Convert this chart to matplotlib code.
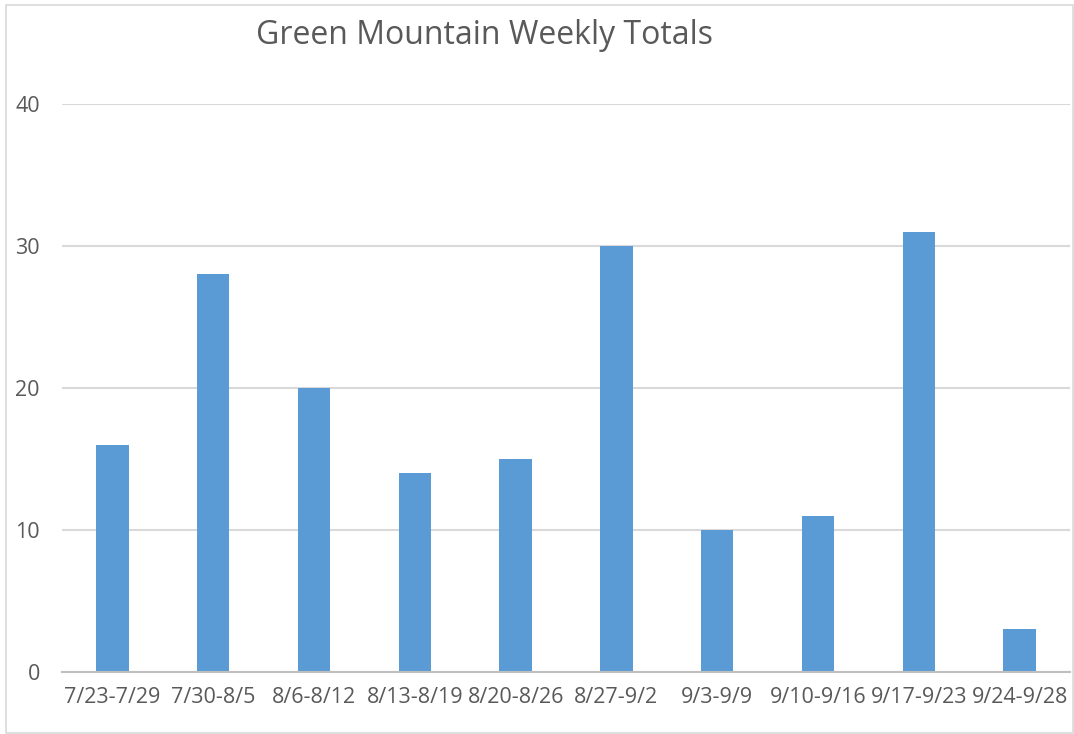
import matplotlib
matplotlib.use("Agg")
import matplotlib.pyplot as plt
from matplotlib.patches import Rectangle
import numpy as np

weeks = ["7/23-7/29", "7/30-8/5", "8/6-8/12", "8/13-8/19", "8/20-8/26",
         "8/27-9/2", "9/3-9/9", "9/10-9/16", "9/17-9/23", "9/24-9/28"]
totals = [16, 28, 20, 14, 15, 30, 10, 11, 31, 3]
yticks = [0, 10, 20, 30, 40]

plt.rcParams["font.family"] = ["Open Sans", "DejaVu Sans"]

fig = plt.figure(figsize=(10.74, 7.34), dpi=100)
ax = fig.add_axes([62 / 1074, 1 - 672 / 734, (1070 - 62) / 1074, (672 - 104) / 734])

x = np.arange(len(weeks))
ax.bar(x, totals, width=0.32, color="#5B9BD5", zorder=3)
ax.set_xlim(-0.5, len(weeks) - 0.5)
ax.set_ylim(0, 40)
ax.set_yticks(yticks)
ax.set_xticks(x)
ax.set_xticklabels(weeks)
ax.yaxis.grid(True, color="#D9D9D9", linewidth=1.5, zorder=0)
ax.tick_params(length=0, labelsize=15.5, colors="#595959")
ax.tick_params(axis="x", pad=11)
ax.tick_params(axis="y", pad=16)
for s in ("top", "right", "left"):
    ax.spines[s].set_visible(False)
ax.spines["bottom"].set_color("#BFBFBF")
ax.spines["bottom"].set_linewidth(1.5)
ax.spines["bottom"].set_zorder(4)

fig.text(485 / 1074, 1 - 35 / 734, "Green Mountain Weekly Totals",
         ha="center", va="center", fontsize=23, color="#595959")

fig.patches.append(Rectangle((6 / 1074, 1 / 734), 1 - 7 / 1074, 1 - 6 / 734,
                             transform=fig.transFigure, fill=False,
                             edgecolor="#D9D9D9", linewidth=1.2))

fig.savefig("out.png", dpi=100)
